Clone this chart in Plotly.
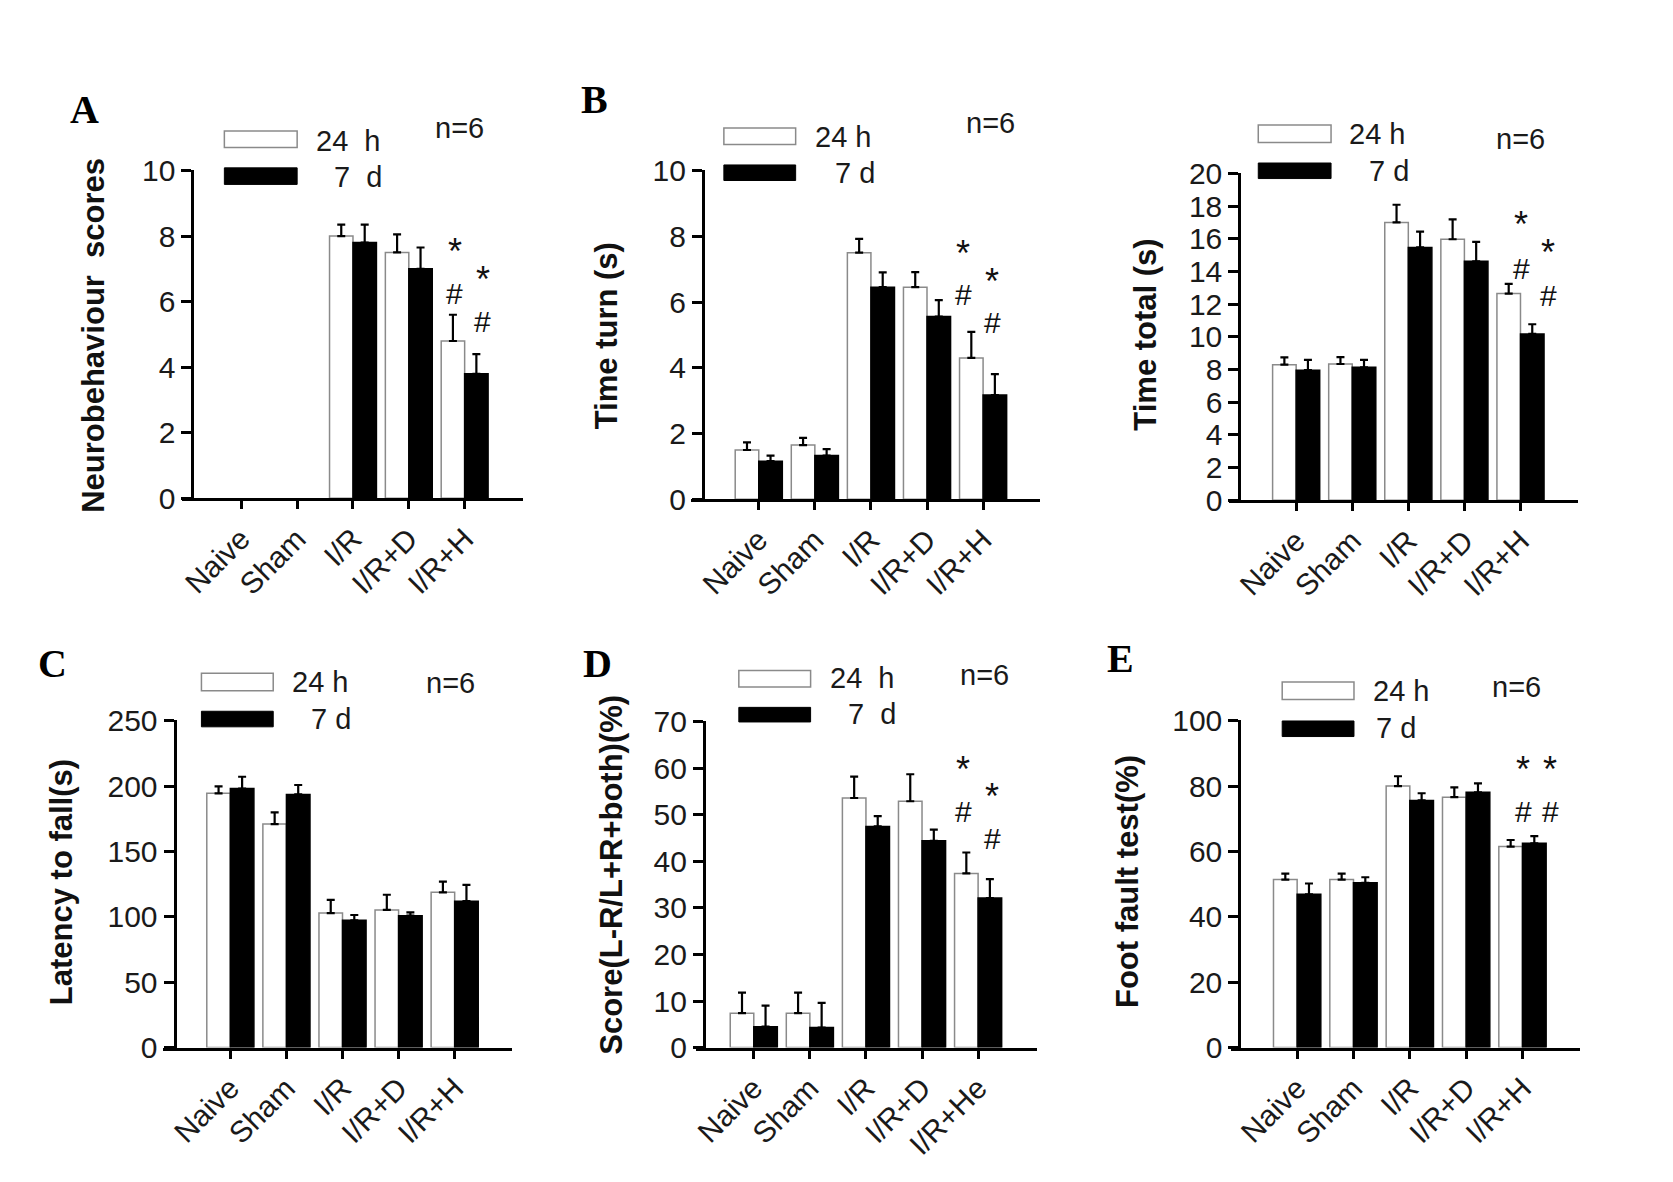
import plotly.graph_objects as go

W, H = 1673, 1182

groups = ["Naive", "Sham", "I/R", "I/R+D", "I/R+H"]
groups_d = ["Naive", "Sham", "I/R", "I/R+D", "I/R+He"]

# A - neurobehaviour scores (no bars for Naive / Sham)
a_24h = [None, None, 8.0, 7.5, 4.8]
a_24h_err = [0, 0, 0.35, 0.55, 0.8]
a_7d = [None, None, 7.8, 7.0, 3.8]
a_7d_err = [0, 0, 0.55, 0.65, 0.6]

# B - time turn
b_24h = [1.5, 1.65, 7.5, 6.45, 4.3]
b_24h_err = [0.23, 0.22, 0.42, 0.46, 0.79]
b_7d = [1.16, 1.33, 6.45, 5.56, 3.17]
b_7d_err = [0.17, 0.2, 0.45, 0.5, 0.64]

# B (right) - time total
t_24h = [8.3, 8.34, 17.0, 15.97, 12.65]
t_24h_err = [0.45, 0.42, 1.08, 1.22, 0.59]
t_7d = [7.96, 8.14, 15.47, 14.62, 10.18]
t_7d_err = [0.63, 0.45, 0.97, 1.19, 0.59]

# C - latency to fall
c_24h = [194.4, 170.9, 102.9, 105.3, 118.7]
c_24h_err = [5.4, 9.0, 10.0, 11.6, 8.2]
c_7d = [198.1, 193.6, 97.4, 100.9, 112.0]
c_7d_err = [9.0, 7.2, 4.0, 2.5, 12.4]

# D - score(L-R/L+R+both)
d_24h = [7.4, 7.4, 53.6, 52.9, 37.4]
d_24h_err = [4.4, 4.4, 4.6, 5.8, 4.5]
d_7d = [4.5, 4.3, 47.5, 44.4, 32.1]
d_7d_err = [4.5, 5.3, 2.2, 2.4, 4.1]

# E - foot fault test
e_24h = [51.4, 51.4, 80.0, 76.6, 61.5]
e_24h_err = [1.8, 1.8, 3.0, 3.0, 2.0]
e_7d = [46.9, 50.4, 75.6, 78.1, 62.5]
e_7d_err = [3.3, 1.7, 2.2, 2.7, 2.2]

# significance marks over I/R+H: (24 h column, 7 d column), star then hash
sig_marks = ["*", "#"]
a_sig = ([7.8, 6.25], [6.95, 5.4])
b_sig = ([7.74, 6.22], [6.9, 5.38])
t_sig = ([17.4, 14.2], [15.7, 12.5])
d_sig = ([61.7, 50.6], [55.8, 45.0])
e_sig = ([87.9, 72.1], [87.9, 72.1])

SANS = "Liberation Sans, Arial, sans-serif"
SERIF = "Liberation Serif, Times New Roman, serif"
INK = "#1a1a1a"

# layout of each panel in pixels
PANELS = [
    dict(cats=groups, s24=a_24h, e24=a_24h_err, s7=a_7d, e7=a_7d_err,
         ymax=10, dtick=2, ylabel="Neurobehaviour\u00a0\u00a0scores", letter="A",
         x0=170, x1=512, yax=180, ytop=150, ybot=488, tick0=229, dx=56.0,
         letter_xy=(72, 88), box_x=(212, 285), box1=(110, 127), box2=(148, 165),
         t1=(302, 120, "24\u00a0\u00a0h"), t2=(320, 157, "7\u00a0\u00a0d"),
         n_xy=(448, 107), ylab_xy=(80, 320), sig=a_sig, sig_dx=(-10, 18)),
    dict(cats=groups, s24=b_24h, e24=b_24h_err, s7=b_7d, e7=b_7d_err,
         ymax=10, dtick=2, ylabel="Time turn (s)", letter="B",
         x0=680, x1=1030, yax=692, ytop=150, ybot=489, tick0=748, dx=56.25,
         letter_xy=(583, 78), box_x=(713, 785), box1=(107, 124), box2=(145, 161),
         t1=(802, 116, "24 h"), t2=(822, 153, "7 d"),
         n_xy=(980, 102), ylab_xy=(595, 321), sig=b_sig, sig_dx=(-20, 9)),
    dict(cats=groups, s24=t_24h, e24=t_24h_err, s7=t_7d, e7=t_7d_err,
         ymax=20, dtick=2, ylabel="Time total (s)", letter=None,
         x0=1220, x1=1570, yax=1230, ytop=153, ybot=490, tick0=1287, dx=56.25,
         letter_xy=None, box_x=(1249, 1322), box1=(104, 122), box2=(143, 159),
         t1=(1338, 113, "24 h"), t2=(1358, 151, "7 d"),
         n_xy=(1512, 118), ylab_xy=(1135, 320), sig=t_sig, sig_dx=(1, 28)),
    dict(cats=groups, s24=c_24h, e24=c_24h_err, s7=c_7d, e7=c_7d_err,
         ymax=250, dtick=50, ylabel="Latency to fall(s)", letter="C",
         x0=150, x1=500, yax=162, ytop=716, ybot=1053, tick0=218, dx=56.25,
         letter_xy=(40, 658), box_x=(189, 261), box1=(668, 686), box2=(707, 723),
         t1=(278, 677, "24 h"), t2=(297, 715, "7 d"),
         n_xy=(439, 678), ylab_xy=(48, 883), sig=None, sig_dx=None),
    dict(cats=groups_d, s24=d_24h, e24=d_24h_err, s7=d_7d, e7=d_7d_err,
         ymax=70, dtick=10, ylabel="Score(L-R/L+R+both)(%)", letter="D",
         x0=685, x1=1027, yax=693, ytop=717, ybot=1053, tick0=743, dx=56.25,
         letter_xy=(586, 658), box_x=(728, 800), box1=(665, 682), box2=(703, 718),
         t1=(817, 673, "24\u00a0\u00a0h"), t2=(835, 710, "7\u00a0\u00a0d"),
         n_xy=(974, 670), ylab_xy=(600, 875), sig=d_sig, sig_dx=(-15, 14)),
    dict(cats=groups, s24=e_24h, e24=e_24h_err, s7=e_7d, e7=e_7d_err,
         ymax=100, dtick=20, ylabel="Foot fault test(%)", letter="E",
         x0=1222, x1=1572, yax=1230, ytop=716, ybot=1053, tick0=1288, dx=56.5,
         letter_xy=(1111, 653), box_x=(1273, 1345), box1=(677, 695), box2=(717, 733),
         t1=(1362, 686, "24 h"), t2=(1365, 724, "7 d"),
         n_xy=(1508, 682), ylab_xy=(1118, 882), sig=e_sig, sig_dx=(1, 28)),
]


def px(x):
    return x / W


def py(y):
    return 1 - y / H


def label(x, y, text, size, family=SANS, xanchor="center", angle=0, color=INK):
    return dict(x=px(x), y=py(y), xref="paper", yref="paper", text=text,
                showarrow=False, xanchor=xanchor, yanchor="middle",
                textangle=angle, font=dict(family=family, size=size, color=color))


fig = go.Figure()
shapes = []
annotations = []
layout_axes = {}

for i, p in enumerate(PANELS):
    k = "" if i == 0 else str(i + 1)
    xref, yref = "x" + k, "y" + k

    for vals, errs, fill, edge, name in [
        (p["s24"], p["e24"], "white", "#8a8a8a", "24 h"),
        (p["s7"], p["e7"], "black", "black", "7 d"),
    ]:
        fig.add_trace(go.Bar(
            x=p["cats"], y=vals, name=name, xaxis=xref, yaxis=yref,
            marker=dict(color=fill, line=dict(color=edge, width=1.5)),
            error_y=dict(type="data", symmetric=False, array=errs,
                         arrayminus=[0] * len(errs), color="black",
                         thickness=2.2, width=4),
            showlegend=False,
        ))

    r0 = (p["x0"] - p["tick0"]) / p["dx"]
    r1 = (p["x1"] - p["tick0"]) / p["dx"]
    layout_axes["xaxis" + k] = dict(
        domain=[px(p["x0"]), px(p["x1"])], anchor=yref, type="category",
        range=[r0, r1], showline=True, linewidth=3, linecolor="black",
        ticks="outside", ticklen=8, tickwidth=2.5, tickcolor="black",
        tickangle=-45, tickfont=dict(family=SANS, size=30, color=INK),
        showgrid=False, zeroline=False, fixedrange=True,
    )
    layout_axes["yaxis" + k] = dict(
        domain=[py(p["ybot"]), py(p["ytop"])], anchor="free",
        position=px(p["yax"]), range=[0, p["ymax"] * 1.002],
        tick0=0, dtick=p["dtick"], showline=True, linewidth=3,
        linecolor="black", ticks="outside", ticklen=10, tickwidth=2.5,
        tickcolor="black", tickfont=dict(family=SANS, size=30, color=INK),
        showgrid=False, zeroline=False, fixedrange=True,
    )

    # legend keys
    bx0, bx1 = p["box_x"]
    shapes.append(dict(type="rect", xref="paper", yref="paper",
                       x0=px(bx0), x1=px(bx1), y0=py(p["box1"][1]), y1=py(p["box1"][0]),
                       fillcolor="white", line=dict(color="#8a8a8a", width=1.5)))
    shapes.append(dict(type="rect", xref="paper", yref="paper",
                       x0=px(bx0), x1=px(bx1), y0=py(p["box2"][1]), y1=py(p["box2"][0]),
                       fillcolor="black", line=dict(color="black", width=1)))
    for tx, ty, txt in (p["t1"], p["t2"]):
        annotations.append(label(tx, ty, txt, 29, xanchor="left"))
    annotations.append(label(p["n_xy"][0], p["n_xy"][1], "n=6", 29))
    annotations.append(label(p["ylab_xy"][0], p["ylab_xy"][1],
                             "<b>" + p["ylabel"] + "</b>", 31, angle=-90, color="#111"))
    if p["letter"]:
        annotations.append(label(p["letter_xy"][0], p["letter_xy"][1],
                                 "<b>" + p["letter"] + "</b>", 40,
                                 family=SERIF, color="black"))

    # significance marks over the last group
    if p["sig"]:
        last = len(p["cats"]) - 1
        for col, ys in enumerate(p["sig"]):
            xc = last + p["sig_dx"][col] / p["dx"]
            for mark, yv in zip(sig_marks, ys):
                star = mark == "*"
                annotations.append(dict(
                    x=xc, y=yv, xref=xref, yref=yref, text=mark, showarrow=False,
                    xanchor="center", yanchor="middle",
                    yshift=-9 if star else 0,
                    font=dict(family=SANS, size=36 if star else 30, color="#111")))

fig.update_layout(
    width=W, height=H, margin=dict(l=0, r=0, t=0, b=0),
    paper_bgcolor="white", plot_bgcolor="white",
    barmode="group", bargap=0.16, bargroupgap=0.0,
    shapes=shapes, annotations=annotations, **layout_axes,
)

fig.write_html("out.html")
